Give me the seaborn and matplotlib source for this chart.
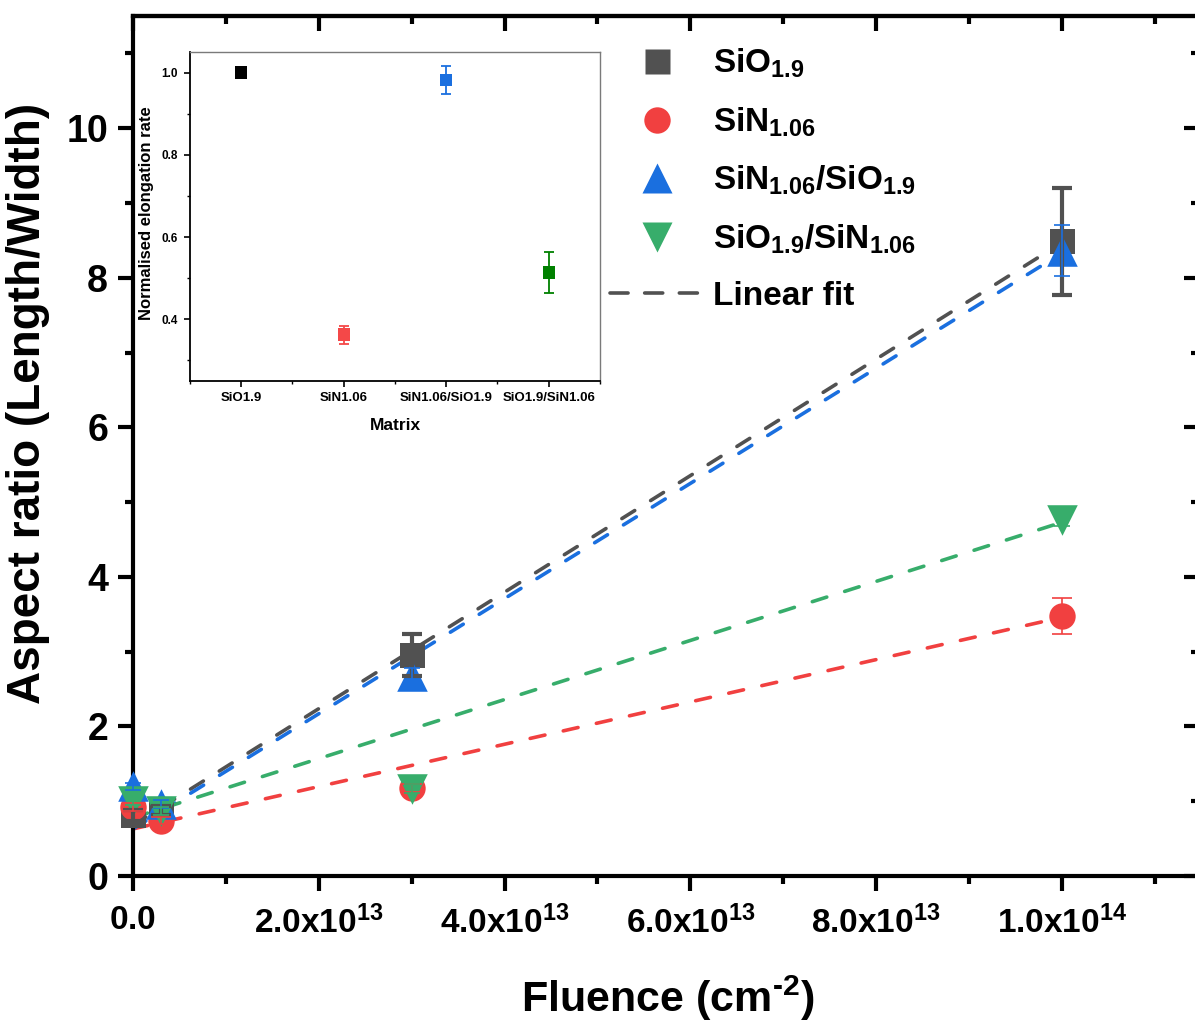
import matplotlib
matplotlib.use("Agg")
import numpy as np
import pandas as pd
import seaborn as sns
import matplotlib.pyplot as plt
from matplotlib import font_manager
from matplotlib.lines import Line2D
from matplotlib.font_manager import FontProperties
from matplotlib.ticker import FixedLocator, MultipleLocator

# ---------------- data ----------------
fluence = [0.0, 3e12, 3e13, 1e14]

sio_ar = [0.81, 0.87, 2.96, 8.49]
sio_err = [0.07, 0.06, 0.28, 0.715]
sin_ar = [0.92, 0.74, 1.18, 3.48]
sin_err = [0.05, 0.05, 0.05, 0.24]
sinsio_ar = [1.20, 0.96, 2.68, 8.36]
sinsio_err = [0.05, 0.05, 0.10, 0.34]
siosin_ar = [1.00, 0.87, 1.17, 4.76]
siosin_err = [0.05, 0.05, 0.06, 0.08]

# linear fits: intercept, slope (per cm^-2)
fit_intercept = [0.68, 0.63, 0.63, 0.78]
fit_slope = [0.779e-13, 0.283e-13, 0.770e-13, 0.395e-13]
fit_range = [0.0, 1e14]

series_labels = [r"SiO$_{\mathbf{1.9}}$", r"SiN$_{\mathbf{1.06}}$",
                 r"SiN$_{\mathbf{1.06}}$/SiO$_{\mathbf{1.9}}$",
                 r"SiO$_{\mathbf{1.9}}$/SiN$_{\mathbf{1.06}}$"]

x_tick_vals = [0.0, 2e13, 4e13, 6e13, 8e13, 1e14]
x_tick_text = [r"$\mathbf{0.0}$", r"$\mathbf{2.0x10^{13}}$", r"$\mathbf{4.0x10^{13}}$",
               r"$\mathbf{6.0x10^{13}}$", r"$\mathbf{8.0x10^{13}}$", r"$\mathbf{1.0x10^{14}}$"]
y_tick_vals = [0, 2, 4, 6, 8, 10]

# inset data
matrix = ["SiO1.9", "SiN1.06", "SiN1.06/SiO1.9", "SiO1.9/SiN1.06"]
norm_rate = [1.0, 0.363, 0.982, 0.514]
norm_err = [0.0, 0.022, 0.035, 0.051]

# ---------------- style ----------------
sns.set_theme(style="white")


def has_font(name):
    try:
        font_manager.findfont(name, fallback_to_default=False)
        return True
    except Exception:
        return False


base = "Liberation Sans" if has_font("Liberation Sans") else "DejaVu Sans"

plt.rcParams["font.family"] = [base, "DejaVu Sans"]
plt.rcParams["font.weight"] = "bold"
plt.rcParams["axes.labelweight"] = "bold"
for k in ["text.color", "axes.labelcolor", "xtick.color", "ytick.color", "axes.edgecolor"]:
    plt.rcParams[k] = "black"
plt.rcParams["mathtext.fontset"] = "custom"
plt.rcParams["mathtext.rm"] = f"{base}:bold"
plt.rcParams["mathtext.bf"] = f"{base}:bold"
plt.rcParams["mathtext.it"] = f"{base}:bold:italic"
plt.rcParams["mathtext.default"] = "bf"

gray, red, blue, green = "#515151", "#F14040", "#1A6FDF", "#37AD6B"
colors = [gray, red, blue, green]
markers = ["s", "o", "^", "v"]
msizes = [18, 19, 22, 22]
values = [sio_ar, sin_ar, sinsio_ar, siosin_ar]
errors = [sio_err, sin_err, sinsio_err, siosin_err]
elw = [3.0, 1.2, 1.2, 1.2]
caps = [7, 7, 6, 6]

fig = plt.figure(figsize=(11.95, 10.21), dpi=100)
ax = fig.add_axes([0.1113, 0.142, 0.8920, 0.8423])

# fit lines
for c, b, m in zip(colors, fit_intercept, fit_slope):
    xf = np.array(fit_range)
    sns.lineplot(x=xf, y=b + m * xf, ax=ax, color=c, lw=2.6, zorder=2)
    ln = ax.get_lines()[-1]
    ln.set_dashes((4.2, 5.2))
    ln.set_dash_capstyle("round")

# markers
for v, c, mk, ms in zip(values, colors, markers, msizes):
    df = pd.DataFrame({"x": fluence, "y": v})
    sns.scatterplot(data=df, x="x", y="y", ax=ax, marker=mk, s=ms ** 2,
                    color=c, linewidth=0, zorder=3, legend=False, clip_on=False)

# error bars
for v, e, c, lw, cs in zip(values, errors, colors, elw, caps):
    eb = ax.errorbar(fluence, v, yerr=e, fmt="none", ecolor=c, elinewidth=lw,
                     capsize=cs, capthick=lw, zorder=4)
    for art in eb.lines[1] + eb.lines[2]:
        art.set_clip_on(False)

ax.set_xlim(0, 1.1475e14)
ax.set_ylim(0, 11.5)
ax.xaxis.set_major_locator(FixedLocator(x_tick_vals))
ax.set_xticklabels(x_tick_text)
ax.xaxis.set_minor_locator(MultipleLocator(1e13))
ax.yaxis.set_major_locator(FixedLocator(y_tick_vals))
ax.yaxis.set_minor_locator(MultipleLocator(1))
ax.set_yticklabels([str(t) for t in y_tick_vals])

for s in ax.spines.values():
    s.set_linewidth(3.0)
    s.set_color("black")
ax.tick_params(axis="both", which="major", direction="out", length=11, width=3,
               colors="black", bottom=True, left=True, top=False, right=False)
ax.tick_params(axis="both", which="minor", direction="out", length=6, width=3,
               colors="black", bottom=True, left=True, top=False, right=False)
ax.tick_params(axis="x", which="major", labelsize=24, pad=10)
ax.tick_params(axis="y", which="major", labelsize=27, pad=7)
for lab in ax.get_yticklabels():
    lab.set_fontweight("bold")

# top / right inward ticks
secx = ax.secondary_xaxis("top")
secx.xaxis.set_major_locator(FixedLocator(x_tick_vals))
secx.xaxis.set_minor_locator(MultipleLocator(1e13))
secx.tick_params(which="major", direction="in", length=11, width=3, labeltop=False)
secx.tick_params(which="minor", direction="in", length=6, width=3)
secx.spines["top"].set_linewidth(3.0)
secy = ax.secondary_yaxis("right")
secy.yaxis.set_major_locator(FixedLocator(y_tick_vals))
secy.yaxis.set_minor_locator(MultipleLocator(1))
secy.tick_params(which="major", direction="in", length=11, width=3, labelright=False)
secy.tick_params(which="minor", direction="in", length=6, width=3)
secy.spines["right"].set_linewidth(3.0)

ax.set_xlabel("Fluence (cm$^{\\mathbf{\u2010}\\mathbf{2}}$)", fontsize=31, fontweight="bold")
ax.xaxis.set_label_coords(0.502, -0.113)
ax.set_ylabel("Aspect ratio (Length/Width)", fontsize=33, fontweight="bold")
ax.yaxis.set_label_coords(-0.078, 0.549)

# legend
handles = [Line2D([], [], ls="none", marker=mk, ms=ms, color=c, mec="none")
           for mk, ms, c in zip(markers, msizes, colors)]
lf = Line2D([], [], color=gray, lw=2.6, ls=(0, (5.0, 4.6)))
lf.set_dash_capstyle("round")
handles.append(lf)
leg = fig.legend(handles, series_labels + ["Linear fit"], loc="upper left",
                 bbox_to_anchor=(0.4996, 0.967), frameon=False,
                 prop=FontProperties(family=base, weight="bold", size=24),
                 handlelength=2.8, handletextpad=0.28, labelspacing=0.75,
                 borderaxespad=0)

# ---------------- inset ----------------
axi = fig.add_axes([0.159, 0.6268, 0.343, 0.3222])
inset_colors = ["#000000", "#F44848", "#1A6FDF", "#008000"]
xi = np.arange(len(matrix))
for i in range(len(matrix)):
    if norm_err[i] > 0:
        axi.errorbar([xi[i]], [norm_rate[i]], yerr=[norm_err[i]], fmt="none",
                     ecolor=inset_colors[i], elinewidth=1.3, capsize=3.5,
                     capthick=1.3, zorder=2)
dfi = pd.DataFrame({"x": xi, "y": norm_rate, "m": matrix})
sns.scatterplot(data=dfi, x="x", y="y", hue="m", palette=inset_colors, marker="s",
                s=78, linewidth=0, ax=axi, legend=False, zorder=3)
axi.set_xlim(-0.5, 3.5)
axi.set_ylim(0.25, 1.05)
axi.xaxis.set_major_locator(FixedLocator(list(xi)))
axi.set_xticklabels(matrix)
axi.xaxis.set_minor_locator(FixedLocator([-0.5, 0.5, 1.5, 2.5, 3.5]))
axi.yaxis.set_major_locator(FixedLocator([0.4, 0.6, 0.8, 1.0]))
axi.set_yticklabels(["0.4", "0.6", "0.8", "1.0"])
axi.yaxis.set_minor_locator(FixedLocator([0.3, 0.5, 0.7, 0.9]))
axi.tick_params(axis="both", which="major", direction="out", length=4, width=1.2,
                colors="black", bottom=True, left=True)
axi.tick_params(axis="both", which="minor", direction="out", length=2.5, width=1.0,
                colors="black", bottom=True, left=True)
axi.tick_params(axis="x", labelsize=9.5, pad=4)
axi.tick_params(axis="y", labelsize=8.5, pad=5)
for lab in axi.get_xticklabels() + axi.get_yticklabels():
    lab.set_fontweight("bold")
axi.spines["left"].set_color("black")
axi.spines["bottom"].set_color("black")
axi.spines["left"].set_linewidth(1.3)
axi.spines["bottom"].set_linewidth(1.3)
axi.spines["top"].set_color("#7a7a7a")
axi.spines["right"].set_color("#7a7a7a")
axi.spines["top"].set_linewidth(1.0)
axi.spines["right"].set_linewidth(1.0)
axi.set_xlabel("Matrix", fontsize=12.5, fontweight="bold")
axi.xaxis.set_label_coords(0.5, -0.113)
axi.set_ylabel("Normalised elongation rate", fontsize=12, fontweight="bold")
axi.yaxis.set_label_coords(-0.088, 0.51)
axi.set_facecolor("white")

fig.savefig("out.png", dpi=100, facecolor="white")
